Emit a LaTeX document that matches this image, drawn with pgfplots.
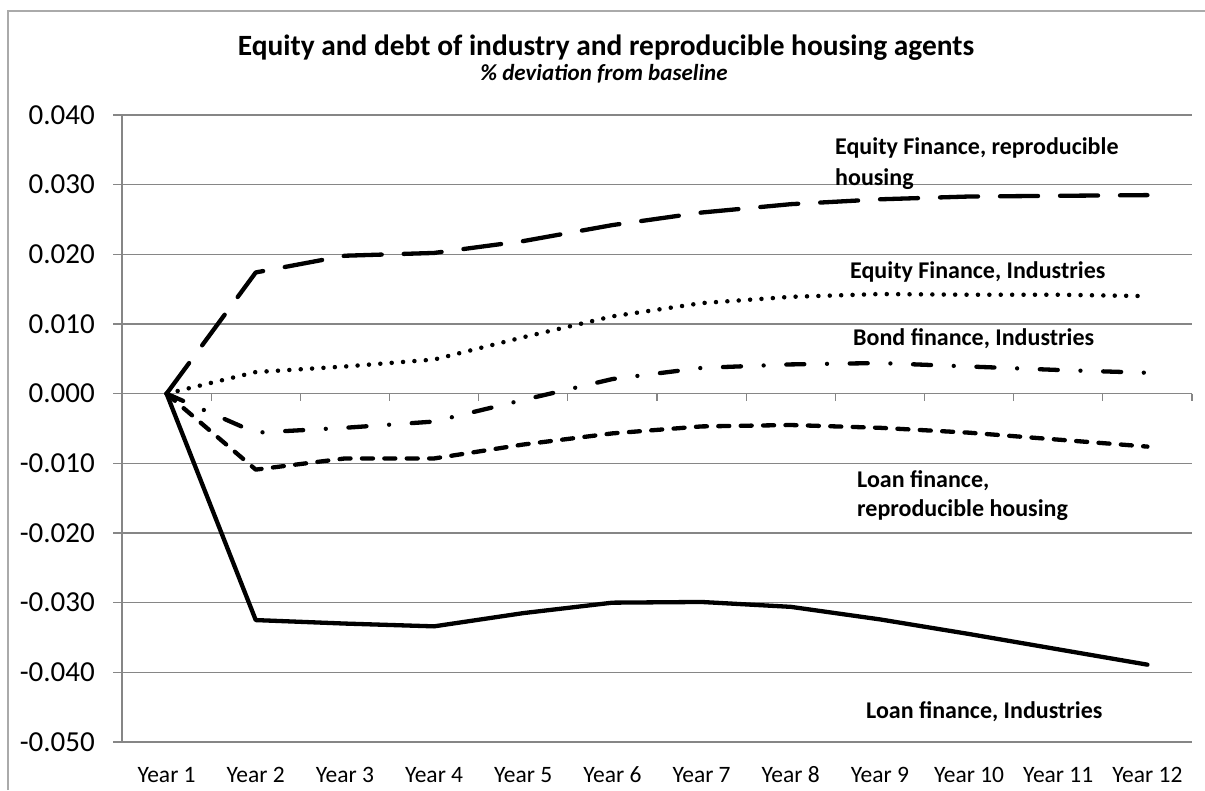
\documentclass[border=0pt]{standalone}
\usepackage{fontspec}
\setmainfont{Carlito}
\usepackage{pgfplots}
\pgfplotsset{compat=1.18}
\definecolor{gridc}{RGB}{134,134,134}
\definecolor{framec}{RGB}{170,170,170}
\begin{document}
\begin{tikzpicture}[x=1pt,y=1pt]
\path[use as bounding box] (0,0) rectangle (1205,790);
\draw[framec, line width=1.3pt] (8,0) -- (8,779) -- (1205,779);
\begin{axis}[
  at={(122pt,48pt)}, anchor=south west,
  scale only axis, width=1070pt, height=627pt,
  xmin=0.5, xmax=12.5, ymin=-0.05, ymax=0.04,
  axis y line*=left, axis x line*=bottom,
  axis line style={gridc, line width=1.2pt, -},
  xtick={1,2,3,4,5,6,7,8,9,10,11,12},
  xticklabels={Year 1,Year 2,Year 3,Year 4,Year 5,Year 6,Year 7,Year 8,Year 9,Year 10,Year 11,Year 12},
  x tick style={draw=none},
  ytick={-0.05,-0.04,-0.03,-0.02,-0.01,0,0.01,0.02,0.03,0.04},
  yticklabels={-0.050,-0.040,-0.030,-0.020,-0.010,0.000,0.010,0.020,0.030,0.040},
  scaled y ticks=false,
  ymajorgrids, grid style={gridc, line width=1.2pt},
  y tick style={gridc, line width=1.2pt},
  tick align=outside, major tick length=9pt,
  yticklabel style={font=\fontsize{29}{31}\selectfont, inner sep=0pt, xshift=-18pt},
  xticklabel style={font=\fontsize{23.5}{25}\selectfont, inner sep=0pt, text height=17pt, text depth=5pt, yshift=-14pt},
  clip=false,
]
\pgfplotsinvokeforeach{1.5,2.5,3.5,4.5,5.5,6.5,7.5,8.5,9.5,10.5,11.5,12.5}{
  \draw[gridc, line width=1.2pt] (axis cs:#1,0) -- ++(0pt,-7pt);
}
% Loan finance, Industries
\addplot[black, line width=4.3pt, line join=round, line cap=round] coordinates {
(1,0) (2,-0.0325) (3,-0.0330) (4,-0.0334) (5,-0.0315) (6,-0.0300) (7,-0.0299) (8,-0.0306) (9,-0.0324) (10,-0.0345) (11,-0.0367) (12,-0.0389)};
% Loan finance, reproducible housing
\addplot[black, line width=4.3pt, line join=round, line cap=round, dash pattern=on 11pt off 11.4pt] coordinates {
(1,0) (2,-0.0109) (3,-0.0093) (4,-0.0093) (5,-0.0073) (6,-0.0057) (7,-0.0047) (8,-0.0045) (9,-0.0049) (10,-0.0056) (11,-0.0066) (12,-0.0076)};
% Bond finance, Industries
\addplot[black, line width=4.3pt, line join=round, line cap=round, dash pattern=on 18pt off 22.7pt on 0pt off 22.7pt] coordinates {
(1,0) (2,-0.0056) (3,-0.0049) (4,-0.0040) (5,-0.0009) (6,0.0021) (7,0.0037) (8,0.0042) (9,0.0044) (10,0.0039) (11,0.0034) (12,0.0030)};
% Equity Finance, Industries
\addplot[black, line width=4.5pt, line join=round, line cap=round, dash pattern=on 0pt off 11.4pt] coordinates {
(1,0) (2,0.0031) (3,0.0039) (4,0.0049) (5,0.0081) (6,0.0111) (7,0.0130) (8,0.0139) (9,0.0143) (10,0.0142) (11,0.0142) (12,0.0140)};
% Equity Finance, reproducible housing
\addplot[black, line width=4.3pt, line join=round, line cap=round, dash pattern=on 38pt off 22pt] coordinates {
(1,0) (2,0.0174) (3,0.0198) (4,0.0202) (5,0.0219) (6,0.0242) (7,0.0260) (8,0.0272) (9,0.0279) (10,0.0283) (11,0.0284) (12,0.0285)};
\end{axis}
\node[font=\fontsize{29.4}{34}\selectfont\bfseries] at (606,742) {Equity and debt of industry and reproducible housing agents};
\node[font=\fontsize{23}{26}\selectfont\bfseries\itshape] at (604,716) {\% deviation from baseline};
\begin{scope}[every node/.style={font=\fontsize{24}{26}\selectfont\bfseries, anchor=west, inner sep=0pt}]
\node at (835,642) {Equity Finance, reproducible};
\node at (835,611) {housing};
\node at (850,518) {Equity Finance, Industries};
\node at (853,451) {Bond finance, Industries};
\node at (857,309) {Loan finance,};
\node at (857,280) {reproducible housing};
\node at (866,78) {Loan finance, Industries};
\end{scope}
\end{tikzpicture}
\end{document}
